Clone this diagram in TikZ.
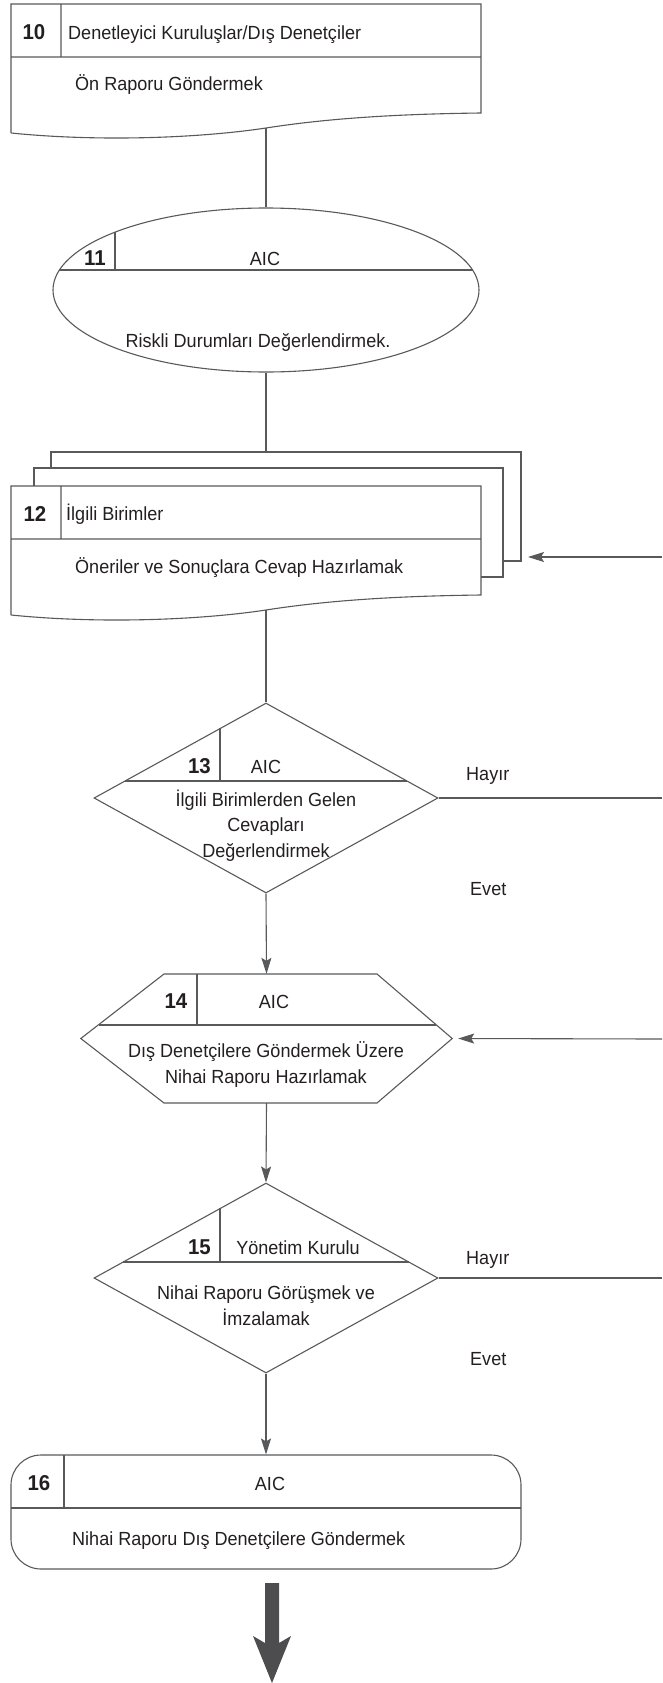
\documentclass[tikz,border=0pt]{standalone}
\usepackage{fontspec}
\setmainfont{Liberation Sans}[FakeStretch=0.95]
\usetikzlibrary{arrows.meta,positioning,calc,shapes.geometric}
\definecolor{linegray}{HTML}{58595B}
\definecolor{inkgray}{HTML}{231F20}
\definecolor{bigarrow}{HTML}{4D4D4F}

\begin{document}
\begin{tikzpicture}[x=1pt,y=-1pt,
  every node/.style={font=\fontsize{19}{25.5}\selectfont,text=inkgray,inner sep=0pt},
  num/.style={font=\bfseries\fontsize{21.5}{24}\selectfont,anchor=base},
  lft/.style={anchor=base west},
  mid/.style={anchor=base,align=center},
  ln/.style={draw=linegray,line width=1.1pt},
  ar/.style={ln,-{Stealth[length=16pt,width=10pt,inset=3pt]}},
  oval/.style={ln,ellipse,minimum width=426pt,minimum height=164pt},
  dec/.style={ln,diamond,minimum width=344pt,minimum height=190pt},
  roundbox/.style={ln,rounded corners=30pt,minimum width=510pt,minimum height=114pt},
  frame/.style={minimum width=371pt,minimum height=129pt}]
\useasboundingbox (0,0) rectangle (662,1683);

\foreach \dy in {0,482}
  \draw[ln,shift={(0,\dy)}] (11,133) -- (11,4) -- (481,4) -- (481,113)
    .. controls (400,114) and (330,118) .. (266,128)
    .. controls (200,138) and (100,142) .. (11,133)
    (11,57) -- (481,57) (61,4) -- (61,57);
\draw[ln] (51,469) -- (51,452) -- (521,452) -- (521,561) -- (503,561);
\draw[ln] (34,486) -- (34,468) -- (503,468) -- (503,577) -- (481,577);

\node[oval] (e11) at (266,290) {};
\node[dec] (d13) at (266,798) {};
\node[frame] (h14) at (266.5,1038.5) {};
\draw[ln] (h14.west) -- (164,974) -- (377,974) -- (h14.east) -- (377,1103) -- (164,1103) -- cycle;
\node[dec] (d15) at (266,1278) {};
\node[roundbox] (b16) at (266,1512) {};

\draw[ln] (59.4,270) -- (472.6,270) (115,232) -- (115,270);
\draw[ln] (124.8,781) -- (407.2,781) (220,728.4) -- (220,781);
\draw[ln] (98.9,1025) -- (435.9,1025) (197,974) -- (197,1025);
\draw[ln] (123,1262) -- (409,1262) (220,1208.4) -- (220,1262);
\draw[ln] (11,1508) -- (521,1508) (64,1455) -- (64,1508);

\coordinate (b10s) at (266,128);
\coordinate (b12n) at (266,452);
\coordinate (b12s) at (266,610);
\coordinate (b12e) at (528,557);
\coordinate (r12) at (662,557);
\coordinate (r13) at (662,798);
\coordinate (r14) at (662,1039);
\coordinate (r15) at (662,1278);

\draw[ln] (b10s) -- (e11.north);
\draw[ln] (e11.south) -- (b12n);
\draw[ln] (b12s) -- (d13.north);
\foreach \a/\b in {d13.south/h14.north,h14.south/d15.north,d15.south/b16.north}
  \draw[ar] (\a) -- (\b);
\draw[ar] (r12) -- (b12e);
\draw[ar,shorten >=6pt] (r14) -- (h14.east);
\draw[ln] (d13.east) -- (r13);
\draw[ln] (d15.east) -- (r15);
\fill[bigarrow] (265,1583) -- (279,1583) -- (279,1643) -- (291,1636) -- (272,1683) -- (253,1636) -- (265,1643) -- cycle;

\node[num] (n10) at (34,40) {10};
\node[lft] (h10) at (68,39.5) {Denetleyici Kuruluşlar/Dış Denetçiler};
\node[lft] (t10) at (75,90.5) {Ön Raporu Göndermek};
\node[num] (n11) at (95,265) {11};
\node[mid] (h11) at (265,265) {AIC};
\node[mid] (t11) at (258,347) {Riskli Durumları Değerlendirmek.};
\node[num] (n12) at (35,521) {12};
\node[lft] (h12) at (66,520) {İlgili Birimler};
\node[lft] (t12) at (75,573) {Öneriler ve Sonuçlara Cevap Hazırlamak};
\node[num,anchor=base east] (n13) at (211,773) {13};
\node[mid] (h13) at (266,773) {AIC};
\node[mid] (t13) at (266,857) {İlgili Birimlerden Gelen\\Cevapları\\Değerlendirmek};
\node[lft] (no13) at (466,780) {Hayır};
\node[lft] (yes13) at (470,895) {Evet};
\node[num] (n14) at (176,1008) {14};
\node[mid] (h14t) at (274,1008) {AIC};
\node[mid] (t14) at (266,1083) {Dış Denetçilere Göndermek Üzere\\Nihai Raporu Hazırlamak};
\node[num,anchor=base east] (n15) at (211,1254) {15};
\node[mid] (h15) at (298,1254) {Yönetim Kurulu};
\node[mid] (t15) at (266,1325) {Nihai Raporu Görüşmek ve\\İmzalamak};
\node[lft] (no15) at (466,1264) {Hayır};
\node[lft] (yes15) at (470,1365) {Evet};
\node[num] (n16) at (39,1490) {16};
\node[mid] (h16) at (270,1490) {AIC};
\node[lft] (t16) at (72,1545) {Nihai Raporu Dış Denetçilere Göndermek};
\end{tikzpicture}
\end{document}
